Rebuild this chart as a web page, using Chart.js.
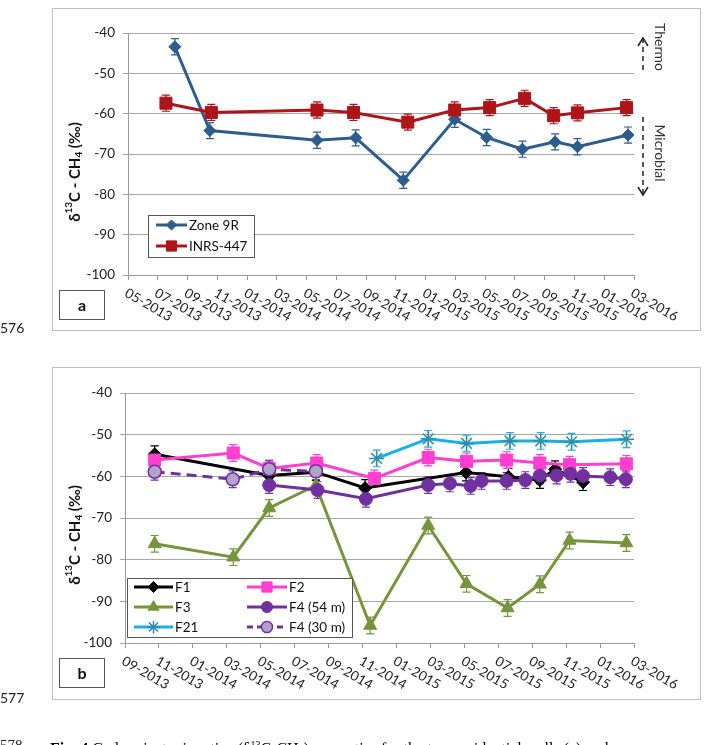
<!DOCTYPE html>
<html>
<head>
<meta charset="utf-8">
<script src="https://cdn.jsdelivr.net/npm/chart.js@4"></script>
<style>
  body { margin: 0; background: #fff; width: 720px; height: 745px; overflow: hidden; position: relative; font-family: Lato, sans-serif; }
  .frame { position: absolute; left: 52px; width: 647px; border: 1px solid #bfbfbf; background: #fff; }
  #frameA { top: 8px; height: 321px; }
  #frameB { top: 367px; height: 331px; }
  .frame canvas { position: absolute; left: 0; top: 0; }
  .tag { position: absolute; left: 6px; width: 44px; height: 28px; border: 1px solid #555; font: bold 16px Lato, sans-serif; text-align: center; line-height: 28px; color: #111; }
  .ln { position: absolute; left: 0; font: 14px Lato, sans-serif; color: #222; line-height: 16px; }
  .cap { position: absolute; left: 50px; top: 737px; font: 16px "Liberation Serif", serif; color: #000; white-space: nowrap; line-height: 16px; }
</style>
</head>
<body>
<div class="frame" id="frameA">
  <canvas id="chartA" width="647" height="320"></canvas>
  <div class="tag" style="top:281px">a</div>
</div>
<div class="ln" style="top:320px">576</div>
<div class="frame" id="frameB">
  <canvas id="chartB" width="647" height="330"></canvas>
  <div class="tag" style="top:290px">b</div>
</div>
<div class="ln" style="top:690px">577</div>
<div class="ln" style="top:737px;font-family:'Liberation Serif',serif;font-size:15px">578</div>
<div class="cap"><b>Fig. 4</b> Carbon isotopic ratios (δ<sup style="font-size:10px">13</sup>C-CH<sub style="font-size:10px">4</sub>) properties for the two residential wells (a) and</div>

<script>
// months counted from 01-2013 (= 0)
const ticksA = ['05-2013','07-2013','09-2013','11-2013','01-2014','03-2014','05-2014','07-2014','09-2014',
  '11-2014','01-2015','03-2015','05-2015','07-2015','09-2015','11-2015','01-2016','03-2016'];
const ticksB = ['09-2013','11-2013','01-2014','03-2014','05-2014','07-2014','09-2014',
  '11-2014','01-2015','03-2015','05-2015','07-2015','09-2015','11-2015','01-2016','03-2016'];
const yTicks = [-100, -90, -80, -70, -60, -50, -40];

// panel a
const zoneMonths = [7.15, 9.5, 16.7, 19.3, 22.5, 25.95, 28.1, 30.5, 32.7, 34.2, 37.6];
const zoneValues = [-43.4, -64.2, -66.6, -66.0, -76.5, -61.4, -65.9, -68.8, -67.0, -68.2, -65.3];
const zoneErrors = [2.0, 2.0, 2.0, 2.0, 2.0, 2.0, 2.0, 2.0, 2.0, 2.0, 2.0];
const inrsMonths = [6.55, 9.6, 16.7, 19.15, 22.8, 25.95, 28.3, 30.65, 32.6, 34.2, 37.5];
const inrsValues = [-57.4, -59.7, -59.1, -59.7, -62.1, -59.1, -58.5, -56.2, -60.5, -59.8, -58.5];
const inrsErrors = [2.0, 2.0, 2.0, 2.0, 2.0, 2.0, 2.0, 2.0, 2.0, 2.0, 2.0];

// panel b
const f1Months = [9.75, 16.5, 19.25, 22.15, 28.1, 30.6, 32.45, 33.35, 35.0];
const f1Values = [-54.7, -59.8, -59.0, -62.8, -59.1, -60.1, -60.9, -58.3, -61.4];
const f1Errors = [2.0, 2.0, 2.0, 2.0, 2.0, 2.0, 2.0, 2.0, 2.0];
const f2Months = [9.75, 14.38, 16.5, 19.3, 22.7, 25.87, 28.13, 30.5, 32.45, 34.2, 37.55];
const f2Values = [-56.1, -54.4, -58.1, -56.8, -60.5, -55.5, -56.4, -56.1, -56.8, -57.2, -57.0];
const f2Errors = [2.0, 2.0, 2.0, 2.0, 2.0, 2.0, 2.0, 2.0, 2.0, 2.0, 2.0];
const f3Months = [9.75, 14.38, 16.5, 19.25, 22.45, 25.87, 28.13, 30.55, 32.45, 34.2, 37.55];
const f3Values = [-76.2, -79.4, -67.6, -62.2, -95.8, -71.8, -85.8, -91.6, -85.9, -75.4, -76.0];
const f3Errors = [2.0, 2.0, 2.0, 2.0, 2.0, 2.0, 2.0, 2.0, 2.0, 2.0, 2.0];
const f454Months = [16.5, 19.35, 22.2, 25.87, 27.15, 28.37, 29.02, 30.49, 31.6, 32.45, 33.44, 34.26, 35.0, 36.6, 37.52];
const f454Values = [-62.1, -63.3, -65.4, -62.1, -61.7, -62.3, -61.1, -61.1, -60.9, -59.8, -59.8, -59.4, -59.9, -60.2, -60.7];
const f454Errors = [2.0, 2.0, 2.0, 2.0, 2.0, 2.0, 2.0, 2.0, 2.0, 2.0, 2.0, 2.0, 2.0, 2.0, 2.0];
const f21Months = [22.83, 25.87, 28.13, 30.69, 32.5, 34.32, 37.56];
const f21Values = [-55.7, -51.0, -52.1, -51.5, -51.5, -51.7, -51.1];
const f21Errors = [2.0, 2.0, 2.0, 2.0, 2.0, 2.0, 2.0];
const f430Months = [9.75, 14.35, 16.5, 19.25];
const f430Values = [-58.9, -60.7, -58.3, -58.8];
const f430Errors = [2.0, 2.0, 2.0, 2.0];

function series(label, months, values, errors, style) {
  return Object.assign({
    label: label,
    data: months.map((m, i) => ({ x: m, y: values[i] })),
    errors: errors,
    tension: 0,
    borderWidth: 3,
    pointBorderWidth: 1,
    fill: false
  }, style);
}

const overlay = {
  id: 'overlay',
  beforeDatasetsDraw(chart) {
    const ctx = chart.ctx, ys = chart.scales.y;
    chart.data.datasets.forEach((ds, i) => {
      if (!ds.errors) return;
      const meta = chart.getDatasetMeta(i);
      ctx.save();
      ctx.strokeStyle = ds.errorColor || ds.borderColor;
      ctx.lineWidth = 1.2;
      meta.data.forEach((pt, j) => {
        const v = ds.data[j].y, e = ds.errors[j];
        const y1 = ys.getPixelForValue(v + e), y2 = ys.getPixelForValue(v - e);
        ctx.beginPath();
        ctx.moveTo(pt.x, y1); ctx.lineTo(pt.x, y2);
        ctx.moveTo(pt.x - 4, y1); ctx.lineTo(pt.x + 4, y1);
        ctx.moveTo(pt.x - 4, y2); ctx.lineTo(pt.x + 4, y2);
        ctx.stroke();
      });
      ctx.restore();
    });
  },
  afterDraw(chart, args, opts) {
    const ctx = chart.ctx, xs = chart.scales.x, area = chart.chartArea;
    ctx.save();
    // slanted month labels
    ctx.fillStyle = '#222';
    ctx.font = '13.5px Lato, sans-serif';
    ctx.textAlign = 'left';
    ctx.textBaseline = 'middle';
    xs.ticks.forEach((t, k) => {
      const px = xs.getPixelForValue(t.value);
      ctx.save();
      ctx.translate(px - 2, area.bottom + 17);
      ctx.rotate(30 * Math.PI / 180);
      ctx.fillText(opts.labels[k], 0, 0);
      ctx.restore();
    });

    // y axis title with super/subscripts
    ctx.save();
    ctx.translate(opts.titleX, opts.titleY);
    ctx.rotate(-Math.PI / 2);
    const parts = [['δ', 15, 0], ['13', 10, -6], ['C - CH', 15, 0], ['4', 10, 4], [' (‰)', 15, 0]];
    let w = 0;
    parts.forEach(p => { ctx.font = 'bold ' + p[1] + 'px Lato, sans-serif'; w += ctx.measureText(p[0]).width; });
    let x = -w / 2;
    ctx.fillStyle = '#111';
    parts.forEach(p => {
      ctx.font = 'bold ' + p[1] + 'px Lato, sans-serif';
      ctx.fillText(p[0], x, p[2]);
      x += ctx.measureText(p[0]).width;
    });
    ctx.restore();

    // legend box
    const lg = opts.legend;
    ctx.strokeStyle = '#555';
    ctx.lineWidth = 1;
    ctx.fillStyle = '#fff';
    ctx.fillRect(lg.box[0], lg.box[1], lg.box[2], lg.box[3]);
    ctx.strokeRect(lg.box[0] + 0.5, lg.box[1] + 0.5, lg.box[2], lg.box[3]);
    lg.items.forEach(it => {
      const ds = chart.data.datasets[it.ds];
      ctx.save();
      ctx.strokeStyle = ds.borderColor;
      ctx.lineWidth = ds.borderWidth;
      ctx.setLineDash(ds.borderDash ? [6, 4] : []);
      ctx.beginPath();
      ctx.moveTo(it.x0, it.y); ctx.lineTo(it.x1, it.y);
      ctx.stroke();
      ctx.setLineDash([]);
      ctx.fillStyle = ds.pointBackgroundColor || ds.borderColor;
      ctx.strokeStyle = ds.pointBorderColor || ds.borderColor;
      ctx.lineWidth = ds.pointBorderWidth;
      Chart.helpers.drawPoint(ctx, { pointStyle: ds.pointStyle, radius: ds.pointRadius * 0.85, rotation: 0, borderWidth: ds.pointBorderWidth }, (it.x0 + it.x1) / 2, it.y);
      ctx.restore();
      ctx.fillStyle = '#111';
      ctx.font = '13.5px Lato, sans-serif';
      ctx.textAlign = 'left';
      ctx.textBaseline = 'middle';
      ctx.fillText(ds.label, it.x1 + 2, it.y + 1);
    });

    // origin notes on the right
    if (opts.notes) {
      ctx.fillStyle = '#333';
      ctx.strokeStyle = '#222';
      ctx.font = '14px Lato, sans-serif';
      ctx.textAlign = 'center';
      ctx.textBaseline = 'middle';
      opts.notes.forEach(n => {
        ctx.save();
        ctx.translate(n.tx, n.ty);
        ctx.rotate(Math.PI / 2);
        ctx.fillText(n.text, 0, 0);
        ctx.restore();
        ctx.save();
        ctx.lineWidth = 1.5;
        ctx.setLineDash([5, 4]);
        ctx.beginPath();
        ctx.moveTo(n.ax, n.from); ctx.lineTo(n.ax, n.to);
        ctx.stroke();
        ctx.setLineDash([]);
        const d = n.to < n.from ? 1 : -1;
        ctx.beginPath();
        ctx.moveTo(n.ax - 5, n.to + d * 8); ctx.lineTo(n.ax, n.to); ctx.lineTo(n.ax + 5, n.to + d * 8);
        ctx.stroke();
        ctx.restore();
      });
    }
    ctx.restore();
  }
};

function makeChart(id, datasets, xMin, xMax, yWidth, xHeight, padTop, plugOpts) {
  datasets.forEach((d, i) => { d.order = datasets.length - i; });
  return new Chart(document.getElementById(id), {
    type: 'line',
    data: { datasets: datasets },
    options: {
      responsive: false,
      animation: false,
      devicePixelRatio: 1,
      layout: { padding: { left: 0, right: 66, top: padTop, bottom: 0 } },
      plugins: { legend: { display: false }, tooltip: { enabled: false }, overlay: plugOpts },
      scales: {
        x: {
          type: 'linear', min: xMin, max: xMax,
          ticks: { display: false, stepSize: 2 },
          grid: { display: true, drawOnChartArea: false, drawTicks: true, tickLength: 5, color: '#9a9a9a' },
          border: { display: true, color: '#9a9a9a' },
          afterFit: s => { s.height = xHeight; }
        },
        y: {
          min: yTicks[0], max: yTicks[yTicks.length - 1],
          afterBuildTicks: s => { s.ticks = yTicks.map(v => ({ value: v })); },
          ticks: { font: { family: 'Lato', size: 13.5 }, color: '#222', padding: 8 },
          grid: { color: '#a6a6a6', tickLength: 5 },
          border: { display: true, color: '#9a9a9a' },
          afterFit: s => { s.width = yWidth; }
        }
      }
    },
    plugins: [overlay]
  });
}

makeChart('chartA', [
  series('Zone 9R', zoneMonths, zoneValues, zoneErrors, { borderColor: '#2D5C8E', backgroundColor: '#2D5C8E', pointStyle: 'rectRot', pointRadius: 6 }),
  series('INRS-447', inrsMonths, inrsValues, inrsErrors, { borderColor: '#AE1519', backgroundColor: '#AE1519', pointStyle: 'rect', pointRadius: 8.5 })
], 4, 38, 75, 54, 24, {
  labels: ticksA, titleX: 22, titleY: 163,
  legend: { box: [95, 206, 106, 42], items: [
    { ds: 0, x0: 103, x1: 134, y: 216 },
    { ds: 1, x0: 103, x1: 134, y: 237 }
  ] },
  notes: [
    { text: 'Thermo', tx: 607, ty: 38, ax: 590, from: 61, to: 29 },
    { text: 'Microbial', tx: 607, ty: 144, ax: 590, from: 108, to: 186 }
  ]
});

makeChart('chartB', [
  series('F1', f1Months, f1Values, f1Errors, { borderColor: '#000000', backgroundColor: '#000000', pointStyle: 'rectRot', pointRadius: 6.5 }),
  series('F2', f2Months, f2Values, f2Errors, { borderColor: '#FF3FCF', backgroundColor: '#FF3FCF', pointStyle: 'rect', pointRadius: 8.5 }),
  series('F3', f3Months, f3Values, f3Errors, { borderColor: '#77943C', backgroundColor: '#77943C', pointStyle: 'triangle', pointRadius: 7.5 }),
  series('F4 (54 m)', f454Months, f454Values, f454Errors, { borderColor: '#7030A0', backgroundColor: '#7030A0', pointStyle: 'circle', pointRadius: 6.5 }),
  series('F21', f21Months, f21Values, f21Errors, { borderColor: '#19B0EA', backgroundColor: '#19B0EA', pointStyle: 'star', pointRadius: 7.5, pointBorderColor: '#2C8FA6', pointBorderWidth: 1.5 }),
  series('F4 (30 m)', f430Months, f430Values, f430Errors, { borderColor: '#7030A0', backgroundColor: '#B3A2C7', borderDash: [10, 6], pointStyle: 'circle', pointRadius: 6.5, pointBackgroundColor: '#B3A2C7', pointBorderColor: '#7030A0', pointBorderWidth: 1.5 })
], 8, 38, 72, 55, 25, {
  labels: ticksB, titleX: 22, titleY: 167,
  legend: { box: [74, 210, 225, 59], items: [
    { ds: 0, x0: 81, x1: 120, y: 219 },
    { ds: 1, x0: 194, x1: 234, y: 219 },
    { ds: 2, x0: 81, x1: 120, y: 239 },
    { ds: 3, x0: 194, x1: 234, y: 239 },
    { ds: 4, x0: 81, x1: 120, y: 259 },
    { ds: 5, x0: 194, x1: 234, y: 259 }
  ] }
});
</script>
</body>
</html>
